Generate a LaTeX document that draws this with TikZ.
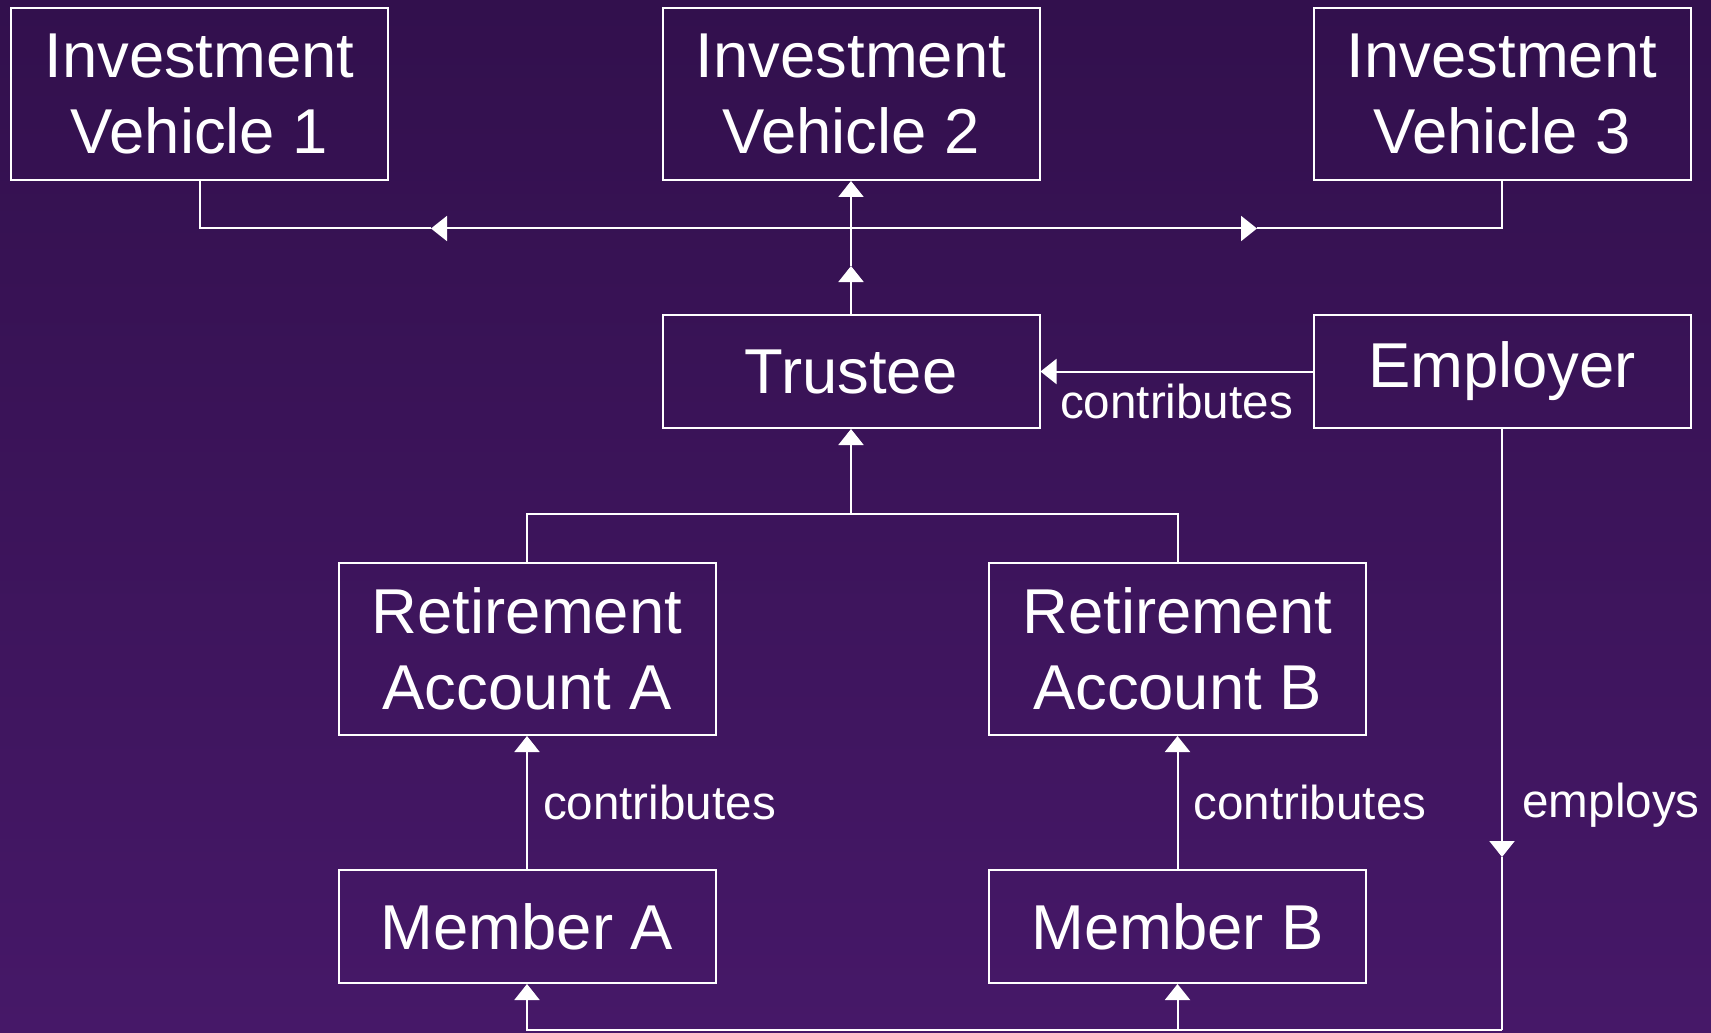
\documentclass[tikz,border=0pt]{standalone}
\usepackage{fontspec}
\setmainfont{Liberation Sans}
\usetikzlibrary{arrows.meta}
\definecolor{plumtop}{RGB}{50,16,77}
\definecolor{plumbot}{RGB}{70,24,104}

\begin{document}
\begin{tikzpicture}[x=0.5pt,y=-0.5pt]
\tikzstyle{every node}+=[inner sep=0pt]
\tikzstyle{entity}=[draw=white,line width=1pt,text=white,align=center,minimum width=188.5pt,font=\fontsize{31.7}{38}\selectfont]
\tikzstyle{highbox}=[entity,minimum height=86pt]
\tikzstyle{lowbox}=[entity,minimum height=56.5pt]
\tikzstyle{link}=[white,line width=1pt]
\tikzstyle{flow}=[link,-{Triangle[width=12.5pt,length=8pt]}]
\tikzstyle{edgetext}=[text=white,font=\fontsize{23.8}{28}\selectfont]

% background
\useasboundingbox (0,0) rectangle (1711,1032);
\shade [top color=plumtop,bottom color=plumbot] (0,0) rectangle (1711,1032);

% investment vehicles
\node [highbox] (iv1) at (199.5,94) {Investment\\Vehicle 1};
\node [highbox] (iv2) at (851,94) {Investment\\Vehicle 2};
\node [highbox] (iv3) at (1502,94) {Investment\\Vehicle 3};

% trustee + employer
\node [lowbox] (trustee) at (851,371.5) {Trustee};
\node [lowbox] (employer) at (1502,371.5) {Employer};

% accounts + members
\node [highbox] (raA) at (527,649) {Retirement\\Account A};
\node [highbox] (raB) at (1177.5,649) {Retirement\\Account B};
\node [lowbox] (memA) at (527,926.5) {Member A};
\node [lowbox] (memB) at (1177.5,926.5) {Member B};

% bends and arrow points
\coordinate (top) at (851,228.5);
\coordinate (tipT) at (851,266);
\coordinate (tipL) at (431,228.5);
\coordinate (tipR) at (1257,228.5);
\coordinate (mid) at (851,514);
\coordinate (tipE) at (1502,857);
\coordinate (low) at (1502,1030);

% trustee to vehicles
\draw [flow] (trustee.north) -- (tipT);
\draw [flow] (tipT) -- (iv2.south);
\draw [flow] (top) -- (tipL);
\draw [link] (tipL) -| (iv1.south);
\draw [flow] (top) -- (tipR);
\draw [link] (tipR) -| (iv3.south);

% employer
\draw [flow] (employer.west) -- node [edgetext,below=6pt] {contributes} (trustee.east);
\draw [flow] (employer.south) -- (tipE);
\draw [link] (tipE) -- (low);
\node [edgetext,anchor=west] (employs) at (1522,805) {employs};
\draw [flow] (low) -| (memA.south);
\draw [flow] (low -| memB.south) -- (memB.south);

% accounts to trustee
\draw [link] (raA.north) |- (mid) -| (raB.north);
\draw [flow] (mid) -- (trustee.south);
\draw [flow] (memA) -- node [edgetext,right=7.5pt] {contributes} (raA);
\draw [flow] (memB) -- node [edgetext,right=7.5pt] {contributes} (raB);
\end{tikzpicture}
\end{document}
